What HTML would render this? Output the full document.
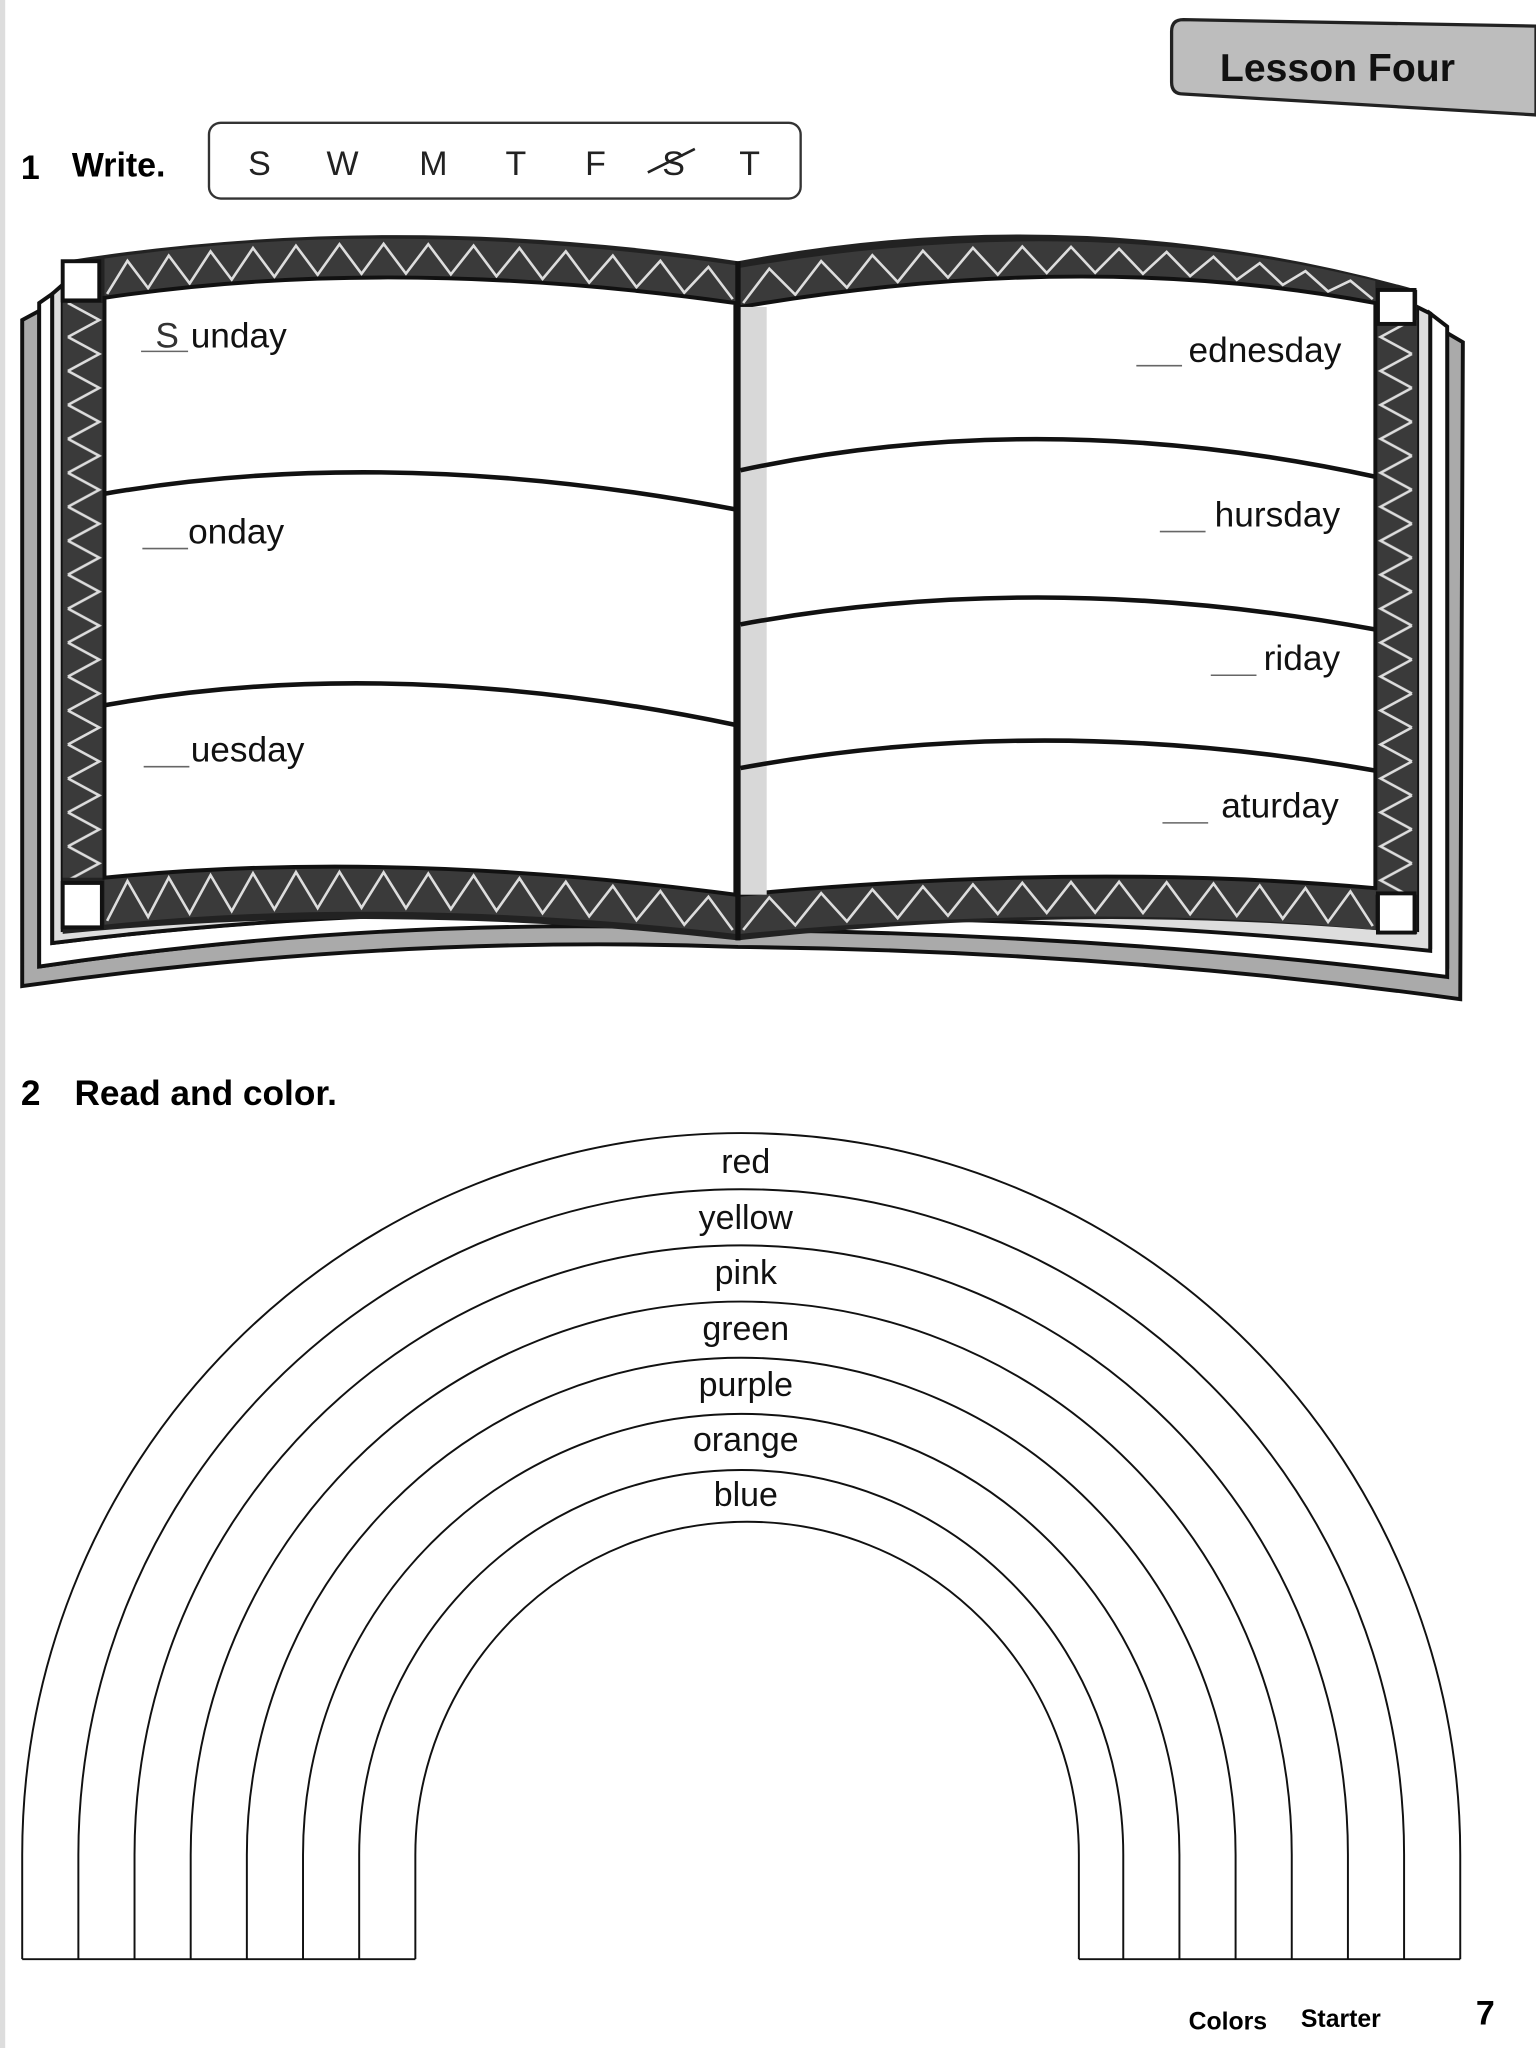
<!DOCTYPE html>
<html><head><meta charset="utf-8"><style>
html,body{margin:0;padding:0;background:#fff;}
svg{display:block;}
text{font-family:"Liberation Sans",sans-serif;}
</style></head><body>
<svg id="s" width="1536" height="2048" viewBox="0 0 1176 1568" xmlns="http://www.w3.org/2000/svg">
<defs>
<pattern id="zvl" x="48" y="232" width="32" height="26" patternUnits="userSpaceOnUse">
<rect width="32" height="26" fill="#3a3a3a"/>
<polyline points="4,0 28,13 4,26" fill="none" stroke="#ddd" stroke-width="2"/>
</pattern>
<pattern id="zvr" x="1053" y="245" width="32" height="26" patternUnits="userSpaceOnUse">
<rect width="32" height="26" fill="#3a3a3a"/>
<polyline points="28,0 4,13 28,26" fill="none" stroke="#ddd" stroke-width="2"/>
</pattern>
</defs>
<rect width="1176" height="1568" fill="#fff"/>
<rect x="0" y="0" width="4" height="1568" fill="#ddd"/>
<path d="M906,15 L1176,20 L1176,88 L906,72 Q897,72 897,63 L897,24 Q897,15 906,15 Z" fill="#bdbdbd" stroke="#222" stroke-width="2.5"/>
<text x="934" y="62" font-size="30" font-weight="bold" fill="#111">Lesson Four</text>
<text x="16" y="137" font-size="26" font-weight="bold">1</text>
<text x="55" y="135" font-size="26" font-weight="bold">Write.</text>
<rect x="160" y="94" width="453" height="58" rx="9" fill="#fff" stroke="#333" stroke-width="1.8"/>
<g font-size="26" fill="#222">
<text x="190" y="134">S</text><text x="250" y="134">W</text><text x="321" y="134">M</text>
<text x="387" y="134">T</text><text x="448" y="134">F</text><text x="507" y="134">S</text>
<text x="566" y="134">T</text></g>
<line x1="496" y1="132" x2="532" y2="114" stroke="#222" stroke-width="2"/>
<path d="M17,245 L17,755 Q300,715 565,725 Q850,728 1118,765 L1120,262 L1108,255 L1108,740 Q850,712 565,710 Q300,700 30,740 L30,238 Z" fill="#aaa" stroke="#111" stroke-width="3"/>
<path d="M30,232 L30,740 Q300,700 565,712 Q850,715 1108,748 L1108,250 L1095,240 L1095,725 Q850,700 565,700 Q300,690 40,722 L40,225 Z" fill="#fff" stroke="#111" stroke-width="3"/>
<path d="M40,225 L40,722 Q300,690 565,702 Q850,702 1095,728 L1095,240 L1085,235 L1085,712 Q850,690 565,692 Q300,682 48,712 L48,218 Z" fill="#ddd" stroke="#111" stroke-width="3"/>
<path d="M48,200 Q300,160 565,200 L565,720 Q300,690 48,715 Z" fill="#222"/>
<path d="M80,198 Q300,165 563,203 L563,232 Q300,195 80,228 Z" fill="#3a3a3a"/>
<path d="M80,672 Q300,650 563,685 L563,715 Q300,685 80,708 Z" fill="#3a3a3a"/>
<rect x="48" y="232" width="32" height="440" fill="url(#zvl)"/>
<path d="M565,200 Q830,150 1085,222 L1085,715 Q830,690 565,720 Z" fill="#222"/>
<path d="M567,205 Q830,160 1053,215 L1053,232 Q830,190 567,235 Z" fill="#3a3a3a"/>
<path d="M567,685 Q830,660 1053,680 L1053,712 Q830,690 567,715 Z" fill="#3a3a3a"/>
<rect x="1053" y="245" width="32" height="440" fill="url(#zvr)"/>
<g id="zz" fill="none" stroke="#ddd" stroke-width="2"></g>
<path d="M80,228 Q300,195 563,232 L563,685 Q300,650 80,672 Z" fill="#fff" stroke="#111" stroke-width="3"/>
<rect x="48" y="200" width="28" height="30" fill="#fff" stroke="#111" stroke-width="3"/>
<rect x="48" y="676" width="30" height="34" fill="#fff" stroke="#111" stroke-width="3"/>
<path d="M80,378 Q300,340 563,390" fill="none" stroke="#111" stroke-width="3.5"/>
<path d="M80,540 Q300,500 563,555" fill="none" stroke="#111" stroke-width="3.5"/>
<path d="M567,235 Q830,190 1053,232 L1053,680 Q830,660 567,685 Z" fill="#fff" stroke="#111" stroke-width="3"/>
<rect x="567" y="235" width="20" height="450" fill="#d8d8d8"/>
<line x1="565" y1="200" x2="565" y2="720" stroke="#111" stroke-width="4"/>
<rect x="1055" y="222" width="28" height="26" fill="#fff" stroke="#111" stroke-width="3"/>
<rect x="1055" y="684" width="28" height="30" fill="#fff" stroke="#111" stroke-width="3"/>
<path d="M567,360 Q800,310 1053,365" fill="none" stroke="#111" stroke-width="3.5"/>
<path d="M567,478 Q800,435 1053,482" fill="none" stroke="#111" stroke-width="3.5"/>
<path d="M567,588 Q800,545 1053,590" fill="none" stroke="#111" stroke-width="3.5"/>
<g font-size="27" fill="#111">
<text x="119" y="266" fill="#333">S</text>
<text x="146" y="266">unday</text>
<text x="144" y="416">onday</text>
<text x="146" y="583">uesday</text>
<text x="1027" y="277" text-anchor="end">ednesday</text>
<text x="1026" y="403" text-anchor="end">hursday</text>
<text x="1026" y="513" text-anchor="end">riday</text>
<text x="1025" y="626" text-anchor="end">aturday</text>
</g>
<g stroke="#666" stroke-width="1.2">
<line x1="108" y1="269" x2="144" y2="269"/>
<line x1="109" y1="420" x2="144" y2="420"/>
<line x1="110" y1="587" x2="145" y2="587"/>
<line x1="870" y1="280" x2="905" y2="280"/>
<line x1="888" y1="407" x2="923" y2="407"/>
<line x1="927" y1="517" x2="962" y2="517"/>
<line x1="890" y1="630" x2="925" y2="630"/>
</g>
<text x="16" y="846" font-size="27" font-weight="bold">2</text>
<text x="57" y="846" font-size="27" font-weight="bold">Read and color.</text>
<g fill="none" stroke="#111" stroke-width="1.5">
<path d="M17,1500 L17,1420 A550,552 0 0 1 1118,1420 L1118,1500"/>
<path d="M60,1500 L60,1420 A507,509 0 0 1 1075,1420 L1075,1500"/>
<path d="M103,1500 L103,1420 A464,466 0 0 1 1032,1420 L1032,1500"/>
<path d="M146,1500 L146,1420 A421,423 0 0 1 989,1420 L989,1500"/>
<path d="M189,1500 L189,1420 A378,380 0 0 1 946,1420 L946,1500"/>
<path d="M232,1500 L232,1420 A335,337 0 0 1 903,1420 L903,1500"/>
<path d="M275,1500 L275,1420 A292,294 0 0 1 860,1420 L860,1500"/>
<path d="M318,1500 L318,1420 A249,250 0 0 1 826,1420 L826,1500"/>
<line x1="17" y1="1500" x2="318" y2="1500"/>
<line x1="826" y1="1500" x2="1118" y2="1500"/>
</g>
<g font-size="26" fill="#111" text-anchor="middle">
<text x="571" y="898">red</text>
<text x="571" y="941">yellow</text>
<text x="571" y="983">pink</text>
<text x="571" y="1026">green</text>
<text x="571" y="1069">purple</text>
<text x="571" y="1111">orange</text>
<text x="571" y="1153">blue</text>
</g>
<text x="910" y="1554" font-size="19" font-weight="bold">Colors</text>
<text x="996" y="1552" font-size="19" font-weight="bold">Starter</text>
<text x="1130" y="1550" font-size="26" font-weight="bold">7</text>
</svg>
<script>
(function(){
var g=document.getElementById('zz');
function q(p0,p1,p2,t){return [(1-t)*(1-t)*p0[0]+2*(1-t)*t*p1[0]+t*t*p2[0],(1-t)*(1-t)*p0[1]+2*(1-t)*t*p1[1]+t*t*p2[1]];}
function band(a,b,n){var pts=[];for(var i=0;i<=2*n;i++){var t=i/(2*n);var c=(i%2==0)?b:a;var p=q(c[0],c[1],c[2],t);pts.push(p[0].toFixed(1)+','+p[1].toFixed(1));}
var pl=document.createElementNS('http://www.w3.org/2000/svg','polyline');pl.setAttribute('points',pts.join(' '));g.appendChild(pl);}
band([[82,202],[300,169],[561,207]],[[82,225],[300,192],[561,229]],14);
band([[82,676],[300,654],[561,689]],[[82,705],[300,682],[561,712]],14);
band([[569,209],[830,164],[1051,219]],[[569,232],[830,187],[1051,229]],13);
band([[569,689],[830,664],[1051,684]],[[569,712],[830,687],[1051,709]],13);
})();
</script>
</body></html>
